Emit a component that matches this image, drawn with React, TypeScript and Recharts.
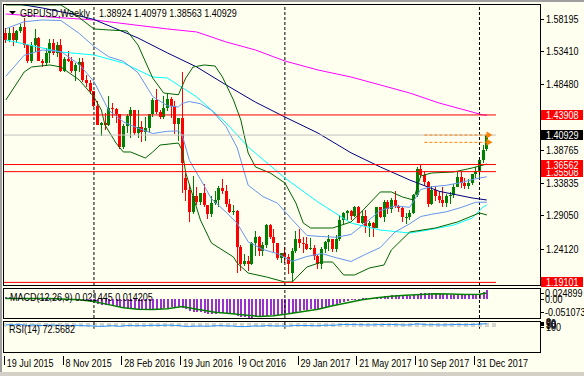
import React from 'react';
import { ComposedChart, Bar, Line, XAxis, YAxis, ReferenceLine, ReferenceDot } from 'recharts';

// ---------------- data ----------------
const symbolTitle = 'GBPUSD,Weekly';
const dateTicks = ['19 Jul 2015', '8 Nov 2015', '28 Feb 2016', '19 Jun 2016', '9 Oct 2016', '29 Jan 2017', '21 May 2017', '10 Sep 2017', '31 Dec 2017'];
const dateTickBars = [0, 16, 32, 48, 64, 80, 96, 112, 128];
const yearSeparatorBars = [24, 76, 129];

const opens = [
  1.5600, 1.5505, 1.5610, 1.5495, 1.5635, 1.5695, 1.5420, 1.5195, 1.5430, 1.5535,
  1.5195, 1.5165, 1.5315, 1.5460, 1.5305, 1.5425, 1.5045, 1.5220, 1.5190, 1.5040,
  1.5125, 1.5170, 1.4905, 1.4865, 1.4740, 1.4525, 1.4245, 1.4265, 1.4245, 1.4500,
  1.4480, 1.4400, 1.3915, 1.4225, 1.4370, 1.4460, 1.4125, 1.4215, 1.4145, 1.4200,
  1.4405, 1.4615, 1.4435, 1.4365, 1.4490, 1.4625, 1.4520, 1.4255, 1.4350, 1.3450,
  1.3280, 1.2950, 1.3190, 1.3105, 1.3230, 1.3050, 1.2920, 1.3080, 1.3130, 1.3305,
  1.3265, 1.3070, 1.2960, 1.2970, 1.2430, 1.2190, 1.2225, 1.2190, 1.2490, 1.2590,
  1.2380, 1.2470, 1.2755, 1.2590, 1.2490, 1.2270, 1.2340, 1.2280, 1.2050, 1.2370,
  1.2560, 1.2490, 1.2480, 1.2410, 1.2415, 1.2295, 1.2190, 1.2400, 1.2510, 1.2550,
  1.2410, 1.2560, 1.2830, 1.2945, 1.2965, 1.2890, 1.3025, 1.2795, 1.2890, 1.2745,
  1.2785, 1.2720, 1.3025, 1.2885, 1.3100, 1.2995, 1.3135, 1.3040, 1.3005, 1.2875,
  1.2880, 1.2935, 1.3205, 1.3590, 1.3500, 1.3400, 1.3065, 1.3285, 1.3190, 1.3135,
  1.3080, 1.3190, 1.3210, 1.3330, 1.3475, 1.3385, 1.3335, 1.3380, 1.3510, 1.3565,
  1.3720, 1.38924,
];
const highs = [
  1.5675, 1.5675, 1.5690, 1.5655, 1.5735, 1.5820, 1.5435, 1.5465, 1.5660, 1.5545,
  1.5225, 1.5385, 1.5510, 1.5510, 1.5465, 1.5510, 1.5245, 1.5335, 1.5250, 1.5160,
  1.5240, 1.5240, 1.4990, 1.4905, 1.4750, 1.4600, 1.4285, 1.4425, 1.4665, 1.4570,
  1.4490, 1.4410, 1.4250, 1.4410, 1.4515, 1.4460, 1.4460, 1.4295, 1.4355, 1.4410,
  1.4635, 1.4770, 1.4470, 1.4665, 1.4720, 1.4650, 1.4600, 1.4320, 1.5020, 1.3530,
  1.3375, 1.3480, 1.3325, 1.3235, 1.3370, 1.3060, 1.3185, 1.3270, 1.3340, 1.3445,
  1.3350, 1.3150, 1.3060, 1.2990, 1.2470, 1.2335, 1.2300, 1.2510, 1.2675, 1.2600,
  1.2510, 1.2775, 1.2775, 1.2705, 1.2495, 1.2340, 1.2430, 1.2330, 1.2415, 1.2675,
  1.2705, 1.2580, 1.2580, 1.2570, 1.2460, 1.2315, 1.2430, 1.2520, 1.2615, 1.2555,
  1.2615, 1.2905, 1.2960, 1.2990, 1.2990, 1.3045, 1.3045, 1.2975, 1.2980, 1.2815,
  1.2800, 1.3030, 1.3030, 1.3125, 1.3125, 1.3155, 1.3265, 1.3060, 1.3025, 1.2935,
  1.2980, 1.3225, 1.3615, 1.3656, 1.3555, 1.3415, 1.3340, 1.3340, 1.3260, 1.3320,
  1.3225, 1.3245, 1.3365, 1.3550, 1.3550, 1.3460, 1.3445, 1.3515, 1.3615, 1.3745,
  1.3945, 1.40979,
];
const lows = [
  1.5460, 1.5470, 1.5410, 1.5450, 1.5605, 1.5380, 1.5165, 1.5165, 1.5330, 1.5190,
  1.5105, 1.5110, 1.5165, 1.5280, 1.5245, 1.5025, 1.5030, 1.5170, 1.5015, 1.4895,
  1.5020, 1.4880, 1.4805, 1.4705, 1.4515, 1.4235, 1.4080, 1.4165, 1.4220, 1.4350,
  1.4270, 1.3880, 1.3880, 1.4130, 1.4055, 1.4090, 1.4055, 1.3995, 1.4005, 1.4140,
  1.4355, 1.4400, 1.4330, 1.4335, 1.4450, 1.4350, 1.4115, 1.4010, 1.3230, 1.3120,
  1.2800, 1.2930, 1.3050, 1.3050, 1.3020, 1.2855, 1.2885, 1.3060, 1.3030, 1.3215,
  1.3030, 1.2945, 1.2910, 1.2050, 1.2085, 1.2160, 1.2085, 1.2165, 1.2300, 1.2300,
  1.2300, 1.2425, 1.2560, 1.2355, 1.2240, 1.2200, 1.2200, 1.2035, 1.1912, 1.2350,
  1.2420, 1.2345, 1.2385, 1.2385, 1.2245, 1.2110, 1.2110, 1.2340, 1.2380, 1.2365,
  1.2365, 1.2520, 1.2775, 1.2840, 1.2840, 1.2880, 1.2785, 1.2770, 1.2635, 1.2590,
  1.2590, 1.2710, 1.2870, 1.2810, 1.2930, 1.2935, 1.3010, 1.2955, 1.2800, 1.2775,
  1.2830, 1.2930, 1.3170, 1.3450, 1.3335, 1.3030, 1.3060, 1.3110, 1.3080, 1.3020,
  1.3020, 1.3065, 1.3160, 1.3320, 1.3305, 1.3300, 1.3300, 1.3360, 1.3460, 1.3455,
  1.3685, 1.38563,
];
const closes = [
  1.5505, 1.5610, 1.5495, 1.5635, 1.5695, 1.5420, 1.5195, 1.5430, 1.5535, 1.5195,
  1.5165, 1.5315, 1.5460, 1.5305, 1.5425, 1.5045, 1.5220, 1.5190, 1.5040, 1.5125,
  1.5170, 1.4905, 1.4865, 1.4740, 1.4525, 1.4245, 1.4265, 1.4245, 1.4500, 1.4480,
  1.4400, 1.3915, 1.4225, 1.4370, 1.4460, 1.4125, 1.4215, 1.4145, 1.4200, 1.4405,
  1.4615, 1.4435, 1.4365, 1.4490, 1.4625, 1.4520, 1.4255, 1.4350, 1.3680, 1.3280,
  1.2950, 1.3190, 1.3105, 1.3230, 1.3050, 1.2920, 1.3080, 1.3130, 1.3305, 1.3265,
  1.3070, 1.2960, 1.2970, 1.2430, 1.2190, 1.2225, 1.2190, 1.2490, 1.2590, 1.2380,
  1.2470, 1.2755, 1.2590, 1.2490, 1.2270, 1.2340, 1.2280, 1.2180, 1.2370, 1.2560,
  1.2490, 1.2480, 1.2410, 1.2415, 1.2295, 1.2190, 1.2400, 1.2510, 1.2550, 1.2410,
  1.2560, 1.2830, 1.2945, 1.2965, 1.2890, 1.3025, 1.2795, 1.2890, 1.2745, 1.2785,
  1.2720, 1.3025, 1.2885, 1.3100, 1.2995, 1.3135, 1.3040, 1.3005, 1.2875, 1.2880,
  1.2935, 1.3205, 1.3590, 1.3500, 1.3400, 1.3065, 1.3285, 1.3190, 1.3135, 1.3080,
  1.3190, 1.3210, 1.3330, 1.3475, 1.3385, 1.3335, 1.3380, 1.3510, 1.3565, 1.3720,
  1.3865, 1.40929,
];

// indicator lines: [bar index, value]
const bbUpperOuter: [number, number][] = [
  [0, 1.6020], [15, 1.6020], [18, 1.5916], [24, 1.5665], [28, 1.5650], [33, 1.5635], [36, 1.5427],
  [40, 1.4938], [43, 1.4716], [47, 1.4690], [49, 1.4938], [51, 1.5101], [54, 1.5131], [57, 1.5116],
  [59, 1.4953], [62, 1.4612], [64, 1.4316], [66, 1.3827], [68, 1.3620], [72, 1.3531], [76, 1.3383],
  [79, 1.3086], [81, 1.2790], [83, 1.2716], [89, 1.2716], [94, 1.2805], [96, 1.2908], [102, 1.3250],
  [105, 1.3250], [108, 1.3176], [111, 1.3131], [113, 1.3487], [116, 1.3531], [122, 1.3546],
  [127, 1.3605], [131, 1.3664],
];
const bbLowerOuter: [number, number][] = [
  [0, 1.4612], [5, 1.5027], [7, 1.5101], [12, 1.5131], [15, 1.5101], [20, 1.4909], [24, 1.4657],
  [26, 1.4464], [27, 1.4242], [30, 1.3975], [32, 1.3842], [34, 1.3842], [38, 1.3753], [40, 1.3842],
  [42, 1.3945], [47, 1.3975], [48, 1.3871], [49, 1.3531], [53, 1.2834], [56, 1.2494], [62, 1.2286],
  [63, 1.2197], [66, 1.2049], [71, 1.1990], [76, 1.1916], [78, 1.1916], [82, 1.2138], [86, 1.2212],
  [89, 1.2212], [92, 1.2020], [95, 1.2020], [99, 1.2123], [103, 1.2168], [105, 1.2390], [110, 1.2657],
  [117, 1.2716], [123, 1.2805], [129, 1.2939], [131, 1.2909],
];
const bbUpperInner: [number, number][] = [
  [0, 1.5668], [5, 1.5772], [10, 1.5798], [15, 1.5790], [20, 1.5598], [24, 1.5405], [28, 1.5253],
  [32, 1.5186], [36, 1.5016], [40, 1.4664], [44, 1.4527], [47, 1.4509], [48, 1.4561], [50, 1.4590],
  [53, 1.4557], [56, 1.4461], [60, 1.4216], [63, 1.3905], [66, 1.3349], [70, 1.3183], [74, 1.3083],
  [78, 1.2838], [82, 1.2605], [86, 1.2590], [90, 1.2579], [94, 1.2620], [98, 1.2794], [102, 1.2975],
  [106, 1.3042], [110, 1.3023], [113, 1.3286], [116, 1.3327], [120, 1.3349], [124, 1.3390],
  [128, 1.3446], [131, 1.3475],
];
const bbLowerInner: [number, number][] = [
  [0, 1.4964], [5, 1.5275], [10, 1.5353], [15, 1.5331], [20, 1.5138], [24, 1.4886], [28, 1.4461],
  [32, 1.4290], [36, 1.4194], [40, 1.4116], [44, 1.4149], [47, 1.4153], [48, 1.4101], [50, 1.3716],
  [53, 1.3438], [56, 1.3149], [60, 1.2949], [63, 1.2786], [66, 1.2512], [70, 1.2398], [74, 1.2335],
  [78, 1.2223], [82, 1.2294], [86, 1.2338], [90, 1.2275], [94, 1.2220], [98, 1.2327], [102, 1.2427],
  [106, 1.2657], [110, 1.2779], [113, 1.2886], [116, 1.2920], [120, 1.2957], [124, 1.3020],
  [128, 1.3098], [131, 1.3098],
];
const maCyan: [number, number][] = [
  [0, 1.5502], [15, 1.5323], [24, 1.5279], [32, 1.5161], [40, 1.4953], [44, 1.4938], [52, 1.4657],
  [60, 1.4272], [66, 1.3916], [76, 1.3457], [85, 1.3101], [94, 1.2790], [102, 1.2686], [110, 1.2642],
  [115, 1.2686], [122, 1.2760], [127, 1.2863], [130, 1.3027], [131, 1.3057],
];
const maNavy: [number, number][] = [
  [0, 1.6064], [10, 1.5975], [18, 1.5886], [24, 1.5805], [36, 1.5531], [44, 1.5310], [52, 1.5101],
  [60, 1.4835], [68, 1.4580], [76, 1.4360], [85, 1.4123], [94, 1.3830], [102, 1.3620], [110, 1.3427],
  [118, 1.3260], [127, 1.3161], [131, 1.3131],
];
const maMagenta: [number, number][] = [
  [0, 1.5886], [24, 1.5798], [44, 1.5665], [52, 1.5620], [60, 1.5472], [68, 1.5353], [76, 1.5190],
  [85, 1.5057], [94, 1.4953], [102, 1.4835], [110, 1.4716], [118, 1.4568], [130, 1.4390], [131, 1.4386],
];

const macdMain = [
  0.0030, 0.0028, 0.0025, 0.0024, 0.0026, 0.0020, 0.0008, 0.0006, 0.0008, -0.0002,
  -0.0012, -0.0012, -0.0005, -0.0008, -0.0004, -0.0020, -0.0025, -0.0030, -0.0040, -0.0045,
  -0.0045, -0.0058, -0.0070, -0.0088, -0.0110, -0.0140, -0.0160, -0.0178, -0.0180, -0.0182,
  -0.0190, -0.0230, -0.0260, -0.0270, -0.0275, -0.0285, -0.0290, -0.0295, -0.0295, -0.0290,
  -0.0275, -0.0270, -0.0268, -0.0260, -0.0245, -0.0232, -0.0232, -0.0222, -0.0245, -0.0285,
  -0.0335, -0.0345, -0.0358, -0.0365, -0.0378, -0.0395, -0.0400, -0.0400, -0.0390, -0.0385,
  -0.0390, -0.0400, -0.0405, -0.0450, -0.0480, -0.0495, -0.0505, -0.0500, -0.0490, -0.0490,
  -0.0480, -0.0455, -0.0440, -0.0430, -0.0430, -0.0420, -0.0415, -0.0415, -0.0390, -0.0355,
  -0.0330, -0.0310, -0.0295, -0.0280, -0.0275, -0.0275, -0.0250, -0.0222, -0.0195, -0.0180,
  -0.0158, -0.0120, -0.0085, -0.0055, -0.0035, -0.0012, -0.0005, 0.0008, 0.0010, 0.0015,
  0.0018, 0.0040, 0.0045, 0.0062, 0.0068, 0.0082, 0.0085, 0.0085, 0.0078, 0.0072,
  0.0072, 0.0090, 0.0125, 0.0145, 0.0150, 0.0140, 0.0140, 0.0132, 0.0122, 0.0110,
  0.0105, 0.0100, 0.0102, 0.0112, 0.0110, 0.0104, 0.0100, 0.0104, 0.0112, 0.0130,
  0.0160, 0.021445,
];
const macdSignal: [number, number][] = [
  [0, 0.0], [12, 0.0], [20, -0.003], [24, -0.008], [28, -0.016], [32, -0.024], [36, -0.028],
  [40, -0.029], [44, -0.027], [48, -0.021], [52, -0.028], [57, -0.036], [61, -0.039], [65, -0.043],
  [69, -0.047], [73, -0.045], [77, -0.040], [81, -0.034], [85, -0.028], [89, -0.019], [93, -0.011],
  [97, -0.003], [101, 0.002], [105, 0.006], [109, 0.0085], [113, 0.0105], [117, 0.0125],
  [121, 0.0115], [125, 0.0108], [129, 0.0112], [131, 0.014205],
];
const rsi = [
  52, 55, 51, 55, 57, 48, 42, 48, 51, 42,
  41, 46, 50, 45, 48, 40, 45, 44, 40, 43,
  44, 38, 37, 35, 32, 28, 29, 29, 37, 37,
  35, 27, 36, 40, 43, 37, 39, 38, 39, 44,
  46, 44, 43, 46, 47, 47, 42, 44, 32, 29,
  25, 32, 31, 34, 31, 29, 34, 36, 40, 39,
  35, 33, 34, 25, 23, 24, 24, 32, 35, 31,
  34, 41, 37, 36, 32, 35, 34, 32, 39, 44,
  42, 42, 40, 41, 38, 36, 43, 46, 47, 44,
  48, 56, 58, 59, 56, 60, 53, 56, 51, 53,
  51, 58, 54, 59, 56, 59, 56, 55, 51, 51,
  53, 60, 68, 64, 60, 51, 56, 54, 52, 51,
  54, 54, 57, 60, 57, 55, 56, 59, 61, 65,
  69, 72.5682,
];

const priceTicks = [1.58195, 1.5341, 1.4848, 1.38765, 1.33835, 1.2905, 1.2412];
const redLevels = [1.43908, 1.35508, 1.36562, 1.19101];
const bidLevel = 1.40929;
const orangeLevels = [1.4093, 1.3985];
const orangeFromBar = 114;
const macdScale = [0.024899, 0, -0.051073];
const rsiLevels = [70, 50, 30];
const rsiScale = [100, 70, 50, 30, 0];

// ---------------- table ----------------
const N = opens.length;
const SLOTS = N + 2;
const lookup = (pts: [number, number][]) => {
  const m = new Map<number, number>(pts);
  return (i: number) => (m.has(i) ? (m.get(i) as number) : null);
};
const fGU = lookup(bbUpperOuter), fGL = lookup(bbLowerOuter), fBU = lookup(bbUpperInner), fBL = lookup(bbLowerInner);
const fCy = lookup(maCyan), fNv = lookup(maNavy), fMg = lookup(maMagenta), fSig = lookup(macdSignal);

const rows = Array.from({ length: SLOTS }, (_, i) => {
  const has = i < N;
  return {
    i,
    range: has ? [lows[i], highs[i]] : null,
    o: has ? opens[i] : null,
    h: has ? highs[i] : null,
    l: has ? lows[i] : null,
    c: has ? closes[i] : null,
    gu: fGU(i), gl: fGL(i), bu: fBU(i), bl: fBL(i), cy: fCy(i), nv: fNv(i), mg: fMg(i),
    macd: has ? macdMain[i] : null,
    sig: fSig(i),
    rsi: has ? rsi[i] : null,
  };
});

// ---------------- style ----------------
const BG = '#FFFFF0';
const FONT = "'Liberation Sans', Arial, sans-serif";
const FS = 11;
const SX = 0.82;
const BULL = '#008000';
const BEAR = '#FF0000';
const W = 584, H = 376;
const PLOT_L = 4, PLOT_R = 540;
const MAIN_TOP = 5, MAIN_BOT = 285;
const MACD_TOP = 289, MACD_BOT = 318;
const RSI_TOP = 322, RSI_BOT = 352;

const Txt = ({ x, y, fill = '#000', children }: any) => (
  <text transform={`translate(${x},${y}) scale(${SX},1)`} x={0} y={0} fontSize={FS} fontFamily={FONT} fill={fill}>
    {children}
  </text>
);

const Candle = (props: any) => {
  const { x, y, width, height, payload } = props;
  if (!payload || payload.o == null) return null;
  const { o, h, l, c } = payload;
  const top = Math.min(y, y + height);
  const hgt = Math.abs(height);
  const span = h - l;
  const yOf = (v: number) => (span > 0 ? top + ((h - v) / span) * hgt : top);
  const col = Math.floor(x + width / 2 + 0.01);
  const color = c >= o ? BULL : BEAR;
  const wt = Math.round(top);
  const wb = Math.max(wt + 1, Math.round(top + hgt));
  const b1 = Math.round(yOf(Math.max(o, c)));
  const b2 = Math.max(b1 + 1, Math.round(yOf(Math.min(o, c))));
  return (
    <g shapeRendering="crispEdges">
      <rect x={col} y={wt} width={1} height={wb - wt} fill={color} />
      <rect x={col - 1} y={b1} width={3} height={b2 - b1} fill={color} />
    </g>
  );
};

const MacdBar = (props: any) => {
  const { x, y, width, height } = props;
  if (x == null || y == null) return null;
  const col = Math.floor(x + width / 2 + 0.01);
  const top = Math.min(y, y + height);
  const h = Math.max(1, Math.abs(height));
  return <rect x={col} y={top} width={2} height={h} fill="#9932CC" shapeRendering="crispEdges" />;
};

const PriceTick = (props: any) => {
  const { y, payload } = props;
  const yy = Math.round(y) + 0.5;
  return (
    <g>
      <line x1={PLOT_R} x2={PLOT_R + 4} y1={yy} y2={yy} stroke="#000" shapeRendering="crispEdges" />
      <Txt x={PLOT_R + 6} y={y + 4}>{Number(payload.value).toFixed(5)}</Txt>
    </g>
  );
};

const MacdTick = (props: any) => {
  const { y, payload } = props;
  const v = Number(payload.value);
  const label = v === 0 ? '0.00' : v.toFixed(6);
  const base = v > 0 ? y + 8 : v < 0 ? y - 2 : y + 4;
  const ty = Math.round(base - 4) + 0.5;
  return (
    <g>
      <line x1={PLOT_R} x2={PLOT_R + 4} y1={ty} y2={ty} stroke="#000" shapeRendering="crispEdges" />
      <Txt x={PLOT_R + 5} y={base}>{label}</Txt>
    </g>
  );
};

const RsiTick = (props: any) => {
  const { y, payload } = props;
  const v = Number(payload.value);
  const base = v === 100 ? y + 9 : v === 0 ? y - 2 : y + 3;
  const ty = Math.round(base - 4) + 0.5;
  return (
    <g>
      <line x1={PLOT_R} x2={PLOT_R + 4} y1={ty} y2={ty} stroke="#000" shapeRendering="crispEdges" />
      <Txt x={PLOT_R + 6} y={base}>{String(v)}</Txt>
    </g>
  );
};

const DateTick = (props: any) => {
  const { x, payload } = props;
  const idx = dateTickBars.indexOf(Number(payload.value));
  if (idx < 0) return null;
  const lx = Math.round(x) - 1.5;
  return (
    <g>
      <line x1={lx} x2={lx} y1={356} y2={365} stroke="#000" shapeRendering="crispEdges" />
      <Txt x={x + 1} y={366.5}>{dateTicks[idx]}</Txt>
    </g>
  );
};

const tagLabel = (text: string, bg: string) => (props: any) => {
  const vb = props.viewBox || {};
  const yy = Number(vb.y);
  const top = Math.round(yy) - 5;
  return (
    <g>
      <rect x={PLOT_R + 1} y={top} width={42} height={10} fill={bg} shapeRendering="crispEdges" />
      <Txt x={PLOT_R + 6} y={yy + 4} fill="#FFFFFF">{text}</Txt>
    </g>
  );
};

const Arrow = (props: any) => {
  const { cx, cy } = props;
  if (cx == null || cy == null) return null;
  return <polygon points={`${cx - 4},${cy - 3.5} ${cx + 2},${cy} ${cx - 4},${cy + 3.5}`} fill="#FF7F00" />;
};

const separators = (prefix: string) =>
  yearSeparatorBars.map((b) => (
    <ReferenceLine key={prefix + b} x={b} stroke="#000" strokeDasharray="3 2" strokeWidth={1} />
  ));

const lineProps = { dot: false, activeDot: false, isAnimationActive: false, connectNulls: true, type: 'linear' as const, strokeWidth: 1 };

const layer: React.CSSProperties = { position: 'absolute', left: 0, top: 0 };

export default function App() {
  const last = N - 1;
  const header = `${opens[last].toFixed(5)} ${highs[last].toFixed(5)} ${lows[last].toFixed(5)} ${closes[last].toFixed(5)}`;
  const sigLast = macdSignal[macdSignal.length - 1][1];
  return (
    <div style={{ position: 'absolute', left: 0, top: 0, width: W, height: H, background: BG, overflow: 'hidden' }}>
      {/* main price window */}
      <div style={layer}>
        <ComposedChart width={W} height={H} data={rows} margin={{ top: MAIN_TOP, right: W - PLOT_R, bottom: H - MAIN_BOT, left: PLOT_L }}>
          <XAxis dataKey="i" type="category" scale="band" hide />
          <YAxis
            orientation="right"
            width={W - PLOT_R}
            domain={[1.18716, 1.60197]}
            allowDataOverflow
            ticks={priceTicks}
            interval={0}
            tick={<PriceTick />}
            axisLine={false}
            tickLine={false}
          />
          {separators('m')}
          <Bar dataKey="range" isAnimationActive={false} shape={(p: any) => <Candle {...p} />} />
          <Line dataKey="mg" stroke="#FF00FF" {...lineProps} />
          <Line dataKey="nv" stroke="#000080" {...lineProps} />
          <Line dataKey="cy" stroke="#00FFFF" {...lineProps} />
          <Line dataKey="bu" stroke="#6495ED" {...lineProps} />
          <Line dataKey="bl" stroke="#6495ED" {...lineProps} />
          <Line dataKey="gu" stroke="#006400" {...lineProps} />
          <Line dataKey="gl" stroke="#006400" {...lineProps} />
          <ReferenceLine y={bidLevel} stroke="#C0C0C0" strokeWidth={1} label={tagLabel(bidLevel.toFixed(5), '#000000')} />
          {redLevels.map((v) => (
            <ReferenceLine key={'r' + v} y={v} stroke="#FF0000" strokeWidth={1} label={tagLabel(v.toFixed(5), '#FF0000')} />
          ))}
          {orangeLevels.map((v) => (
            <ReferenceLine
              key={'o' + v}
              segment={[{ x: orangeFromBar, y: v }, { x: last, y: v }]}
              stroke="#FF7F00"
              strokeDasharray="3 2"
              strokeWidth={1}
            />
          ))}
          {orangeLevels.map((v) => (
            <ReferenceDot key={'a' + v} x={N} y={v} r={3} shape={(p: any) => <Arrow {...p} />} />
          ))}
        </ComposedChart>
      </div>

      {/* MACD window */}
      <div style={layer}>
        <ComposedChart width={W} height={H} data={rows} margin={{ top: MACD_TOP, right: W - PLOT_R, bottom: H - MACD_BOT, left: PLOT_L }}>
          <XAxis dataKey="i" type="category" scale="band" hide />
          <YAxis
            orientation="right"
            width={W - PLOT_R}
            domain={[macdScale[2], macdScale[0]]}
            allowDataOverflow
            ticks={macdScale}
            interval={0}
            tick={<MacdTick />}
            axisLine={false}
            tickLine={false}
          />
          {separators('d')}
          <Bar dataKey="macd" isAnimationActive={false} shape={(p: any) => <MacdBar {...p} />} />
          <Line dataKey="sig" stroke="#008000" {...lineProps} strokeWidth={1.5} />
        </ComposedChart>
      </div>

      {/* RSI window */}
      <div style={layer}>
        <ComposedChart width={W} height={H} data={rows} margin={{ top: RSI_TOP, right: W - PLOT_R, bottom: H - RSI_BOT, left: PLOT_L }}>
          <XAxis
            dataKey="i"
            type="category"
            scale="band"
            ticks={dateTickBars}
            interval={0}
            tick={<DateTick />}
            axisLine={false}
            tickLine={false}
            height={H - RSI_BOT}
          />
          <YAxis
            orientation="right"
            width={W - PLOT_R}
            domain={[0, 100]}
            allowDataOverflow
            ticks={rsiScale}
            interval={0}
            tick={<RsiTick />}
            axisLine={false}
            tickLine={false}
          />
          {rsiLevels.map((v) => (
            <ReferenceLine key={'l' + v} y={v} stroke="#C0C0C0" strokeDasharray="4 3" strokeWidth={1} />
          ))}
          {yearSeparatorBars.map((b) => (
            <ReferenceLine
              key={'s' + b}
              segment={[{ x: b, y: 100 }, { x: b, y: -13 }]}
              ifOverflow="visible"
              stroke="#000"
              strokeDasharray="3 2"
              strokeWidth={1}
            />
          ))}
          <Line dataKey="rsi" stroke="#1E90FF" {...lineProps} />
        </ComposedChart>
      </div>

      {/* frames and window captions */}
      <svg width={W} height={H} style={{ position: 'absolute', left: 0, top: 0, pointerEvents: 'none' }}>
        <rect x={0} y={0} width={W} height={2} fill="#A0A0A0" />
        <rect x={0} y={0} width={2} height={H} fill="#A0A0A0" />
        <rect x={0} y={372} width={W} height={4} fill="#D4D0C8" />
        <g fill="none" stroke="#000" shapeRendering="crispEdges">
          <rect x={3.5} y={4.5} width={537} height={281} />
          <rect x={3.5} y={288.5} width={537} height={30} />
          <rect x={3.5} y={321.5} width={537} height={31} />
        </g>
        <polygon points="9,11 16,11 12.5,14.5" fill="#000" />
        <Txt x={20} y={16.5}>{symbolTitle}</Txt>
        <Txt x={99} y={16.5}>{header}</Txt>
        <Txt x={10} y={300.5}>{`MACD(12,26,9) ${macdMain[last].toFixed(6)} ${sigLast.toFixed(6)}`}</Txt>
        <Txt x={9} y={332.5}>{`RSI(14) ${rsi[last].toFixed(4)}`}</Txt>
      </svg>
    </div>
  );
}
